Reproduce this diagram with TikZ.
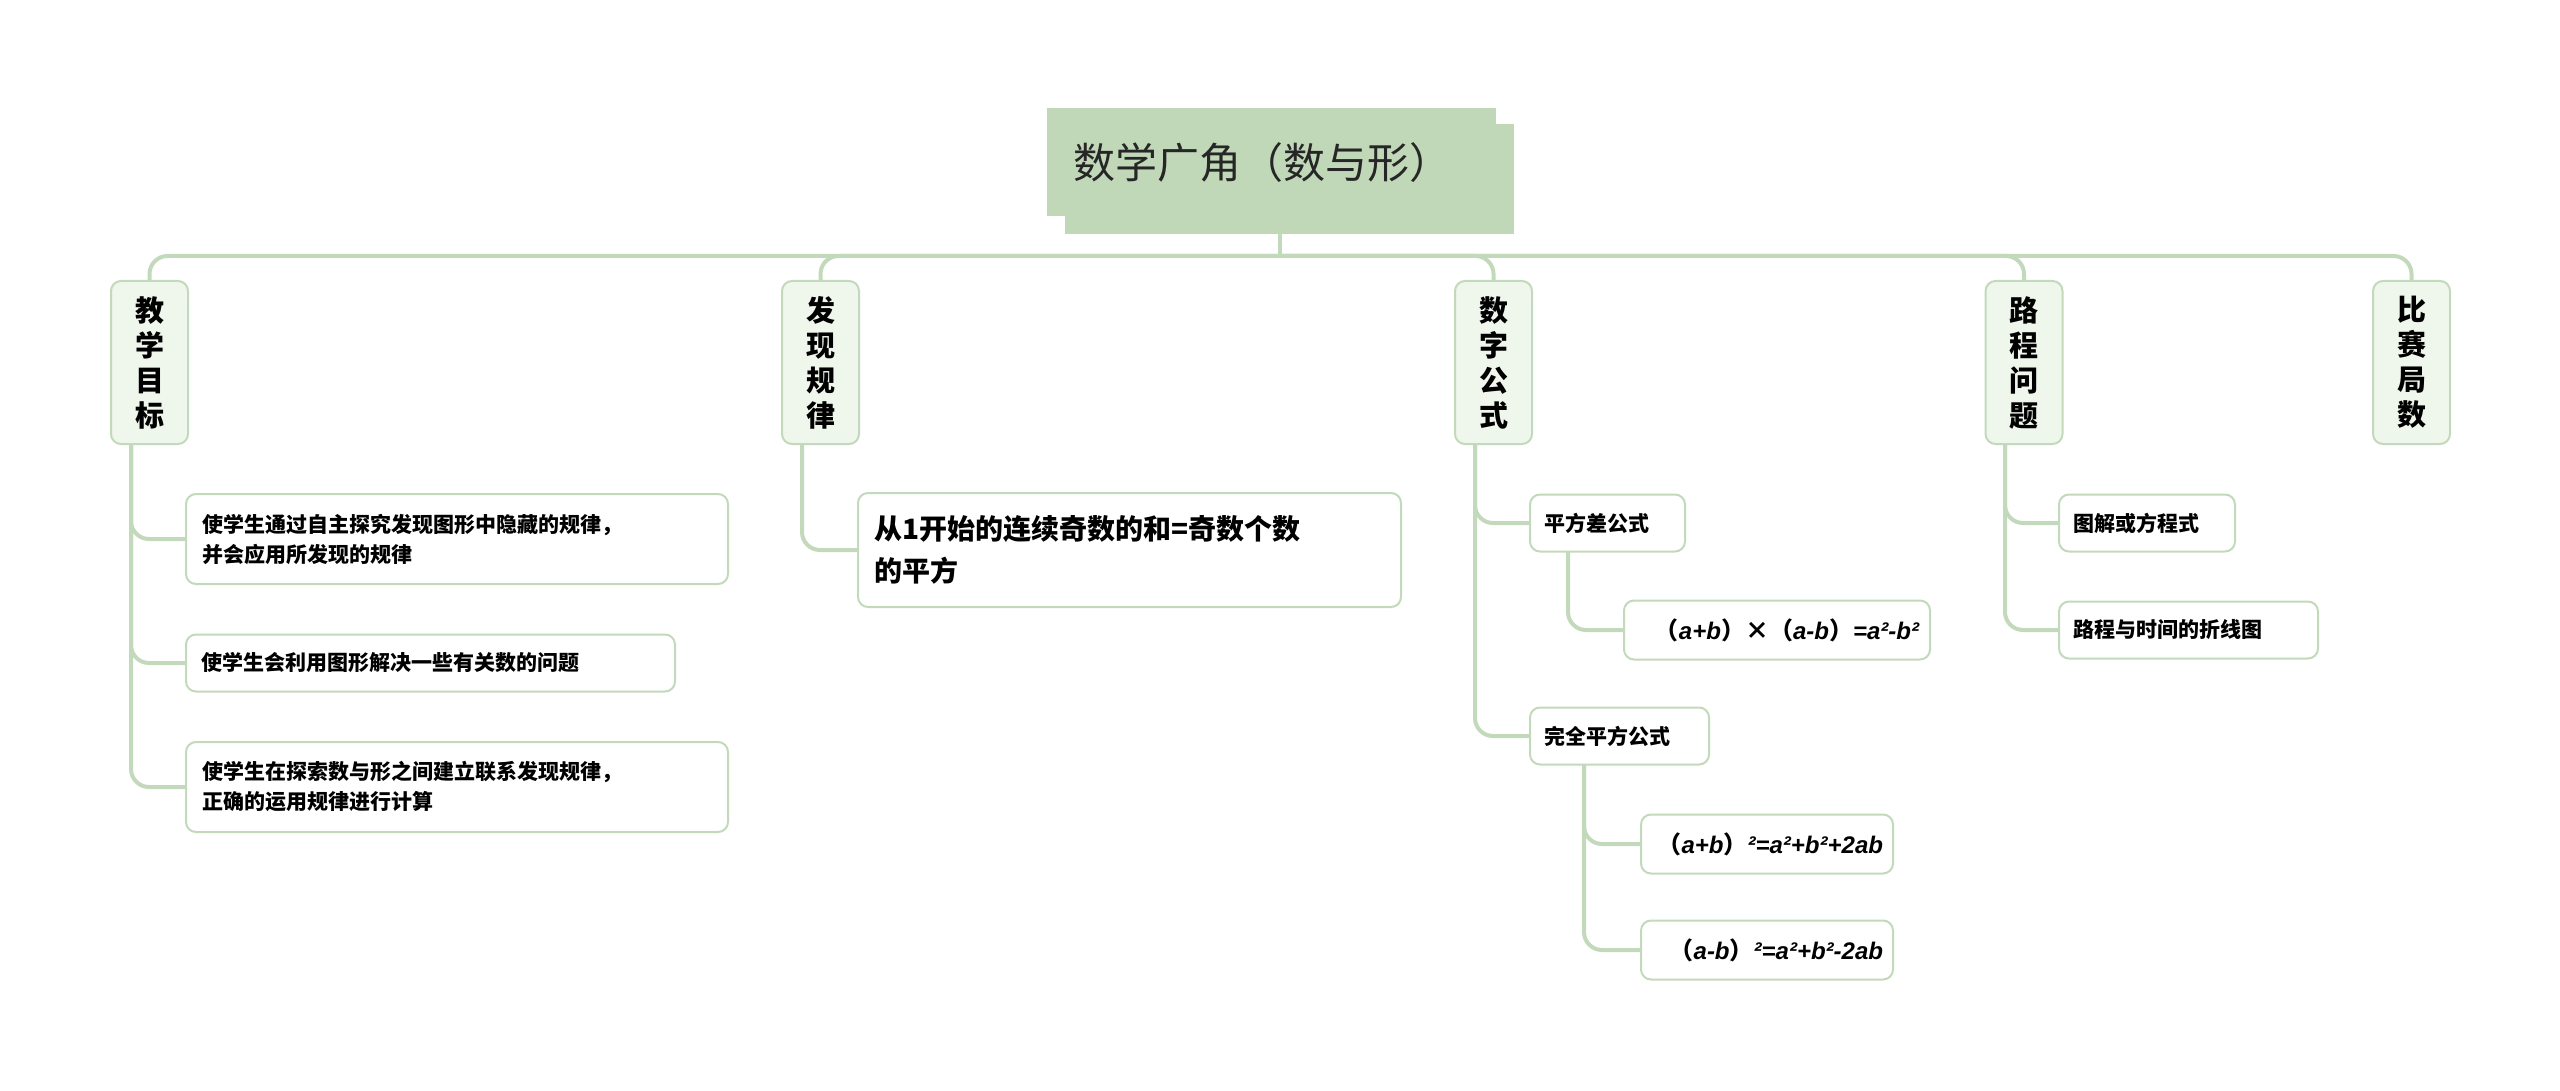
\documentclass[tikz,border=0pt]{standalone}
\usepackage{fontspec}
\setmainfont{Liberation Sans}
\newfontfamily\cjk{Noto Sans CJK SC}
\newfontfamily\lat{Liberation Sans}
\definecolor{ln}{HTML}{C3D9BB}
\definecolor{rootf}{HTML}{C0D8B8}
\definecolor{lvf}{HTML}{EFF6EB}
\tikzset{
 conn/.style={draw=ln,line width=2pt,rounded corners=9pt},
 lv1/.style={draw=ln,fill=lvf,line width=1pt,rounded corners=5pt,minimum width=38.5pt,minimum height=81.5pt,text width=20pt,align=center,inner sep=0pt,font=\cjk\bfseries\fontsize{14.5}{17.5}\selectfont},
 leaf/.style={draw=ln,fill=white,line width=1pt,rounded corners=5pt,anchor=west,inner sep=0pt,align=left,font=\cjk\bfseries\fontsize{10.5}{15}\selectfont},
 fm/.style={leaf,font=\lat\bfseries\itshape\fontsize{12}{15}\selectfont}
}
\begin{document}
\begin{tikzpicture}[x=0.5pt,y=-0.5pt]
\useasboundingbox (0,0) rectangle (2560,1091);
% root
\fill[rootf] (1047,108) rectangle (1496,216);
\fill[rootf] (1065,124) rectangle (1514,234);
\node[anchor=west,inner sep=0pt,font=\cjk\fontsize{21}{24}\selectfont,text=black!85] (root) at (1073,163) {数学广角（数与形）};
\coordinate (rb) at (1280,234);
\coordinate (bus) at (1280,256);
% level 1
\node[lv1] (edu) at (149.5,362.5) {教\\学\\目\\标};
\node[lv1] (disc) at (820.5,362.5) {发\\现\\规\\律};
\node[lv1] (form) at (1493.5,362.5) {数\\字\\公\\式};
\node[lv1] (road) at (2024,362.5) {路\\程\\问\\题};
\node[lv1] (race) at (2411.5,362.5) {比\\赛\\局\\数};
\draw[conn,rounded corners=0pt] (rb) -- (bus);
\draw[conn] (edu.north) |- (race.north |- bus) -- (race.north);
\draw[conn] (disc.north) |- (bus);
\draw[conn] (form.north) |- (bus);
\draw[conn] (road.north) |- (bus);
% leaves
\node[leaf,minimum width=271pt,minimum height=45pt,text width=255pt] (c1) at (185,539) {使学生通过自主探究发现图形中隐藏的规律，\\并会应用所发现的规律};
\node[leaf,minimum width=244.5pt,minimum height=28.5pt,text width=229pt] (c2) at (185,663) {使学生会利用图形解决一些有关数的问题};
\node[leaf,minimum width=271pt,minimum height=45pt,text width=255pt] (c3) at (185,787) {使学生在探索数与形之间建立联系发现规律，\\正确的运用规律进行计算};
\coordinate (e0) at (131,444);
\draw[conn] (e0) |- (c1.west);
\draw[conn] (e0) |- (c2.west);
\draw[conn] (e0) |- (c3.west);
\node[leaf,minimum width=271.5pt,minimum height=57pt,text width=255pt,font=\cjk\bfseries\fontsize{14}{21}\selectfont] (fx) at (857,550) {从1开始的连续奇数的和=奇数个数\\的平方};
\coordinate (d0) at (802,444);
\draw[conn] (d0) |- (fx.west);
\node[leaf,minimum width=77.5pt,minimum height=28.5pt,text width=63pt] (pfc) at (1529,523) {平方差公式};
\node[leaf,minimum width=89.5pt,minimum height=28.5pt,text width=75pt] (wq) at (1529,736) {完全平方公式};
\coordinate (f0) at (1475,444);
\draw[conn] (f0) |- (pfc.west);
\draw[conn] (f0) |- (wq.west);
\node[fm,minimum width=153pt,minimum height=29.5pt,text width=142pt,align=right] (f1) at (1623,630) {{\cjk （}a+b{\cjk ）×（}a-b{\cjk ）}=a²-b²};
\node[fm,minimum width=126pt,minimum height=29.5pt,text width=116pt,align=right] (f2) at (1640,844) {{\cjk （}a+b{\cjk ）}²=a²+b²+2ab};
\node[fm,minimum width=126pt,minimum height=29.5pt,text width=116pt,align=right] (f3) at (1640,950) {{\cjk （}a-b{\cjk ）}²=a²+b²-2ab};
\coordinate (p0) at (1568,552);
\draw[conn] (p0) |- (f1.west);
\coordinate (w0) at (1584,764);
\draw[conn] (w0) |- (f2.west);
\draw[conn] (w0) |- (f3.west);
\node[leaf,minimum width=88pt,minimum height=28.5pt,text width=74pt] (r1) at (2058,523) {图解或方程式};
\node[leaf,minimum width=129.5pt,minimum height=28.5pt,text width=115pt] (r2) at (2058,630) {路程与时间的折线图};
\coordinate (g0) at (2005,444);
\draw[conn] (g0) |- (r1.west);
\draw[conn] (g0) |- (r2.west);
\end{tikzpicture}
\end{document}
